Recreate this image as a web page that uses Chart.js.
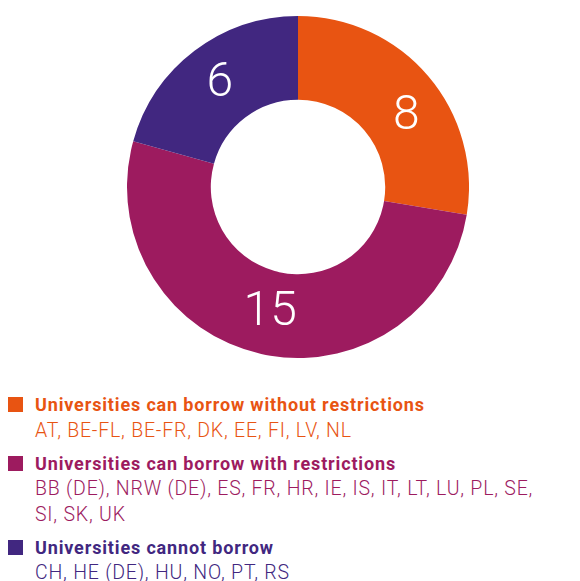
<!DOCTYPE html>
<html>
<head>
<meta charset="utf-8">
<script src="https://cdn.jsdelivr.net/npm/chart.js@4.4.1/dist/chart.umd.min.js"></script>
<style>
  html, body { margin: 0; padding: 0; background: #fff; }
  body { width: 580px; height: 581px; position: relative; overflow: hidden; font-family: "Roboto", sans-serif; }
  #chart-box { position: absolute; left: 127px; top: 16px; width: 342px; height: 342px; }
  #legend { position: absolute; left: 8px; top: 393px; width: 530px; }
  .item { position: relative; padding-left: 27px; margin-bottom: 8.5px; }
  .item i { position: absolute; left: 0; top: 4px; width: 15px; height: 15px; }
  .item b { display: block; font-size: 18px; font-weight: 700; letter-spacing: 0.85px; line-height: 24.5px; white-space: nowrap; }
  .item span { display: block; font-size: 19.5px; font-weight: 300; letter-spacing: 0.8px; line-height: 25.5px; }
</style>
</head>
<body>
<div id="chart-box"><canvas id="donut"></canvas></div>
<div id="legend"></div>
<script>
const categories = [
  "Universities can borrow without restrictions",
  "Universities can borrow with restrictions",
  "Universities cannot borrow"
];
const counts = [8, 15, 6];
const countries = [
  "AT, BE-FL, BE-FR, DK, EE, FI, LV, NL",
  "BB (DE), NRW (DE), ES, FR, HR, IE, IS, IT, LT, LU, PL, SE, SI, SK, UK",
  "CH, HE (DE), HU, NO, PT, RS"
];
const colors = ["#e85412", "#9d1b5f", "#412780"];

const byId = (id) => document.getElementById(id);

// white numbers inside each ring segment
const sliceLabels = {
  id: "sliceLabels",
  afterDatasetsDraw(chart) {
    const { ctx } = chart;
    const nudge = { 0: [10, 14] }; // the "8" sits a bit lower than its midpoint
    ctx.save();
    ctx.fillStyle = "#fff";
    ctx.font = "300 48px Roboto, sans-serif";
    ctx.textAlign = "center";
    ctx.textBaseline = "middle";
    chart.getDatasetMeta(0).data.forEach((arc, i) => {
      const p = arc.getCenterPoint();
      const [dx, dy] = nudge[i] || [0, 0];
      ctx.fillText(String(counts[i]), p.x + dx, p.y + dy);
    });
    ctx.restore();
  }
};

new Chart(byId("donut"), {
  type: "doughnut",
  data: {
    labels: categories,
    datasets: [{ data: counts, backgroundColor: colors, borderWidth: 0 }]
  },
  options: {
    responsive: true,
    maintainAspectRatio: false,
    animation: false,
    cutout: "51%",
    layout: { padding: 0 },
    plugins: { legend: { display: false }, tooltip: { enabled: false } }
  },
  plugins: [sliceLabels]
});

byId("legend").innerHTML = categories
  .map((name, i) => `<div class="item" style="color:${colors[i]}">
      <i style="background:${colors[i]}"></i>
      <b>${name}</b>
      <span>${countries[i]}</span>
    </div>`)
  .join("");
</script>
</body>
</html>
